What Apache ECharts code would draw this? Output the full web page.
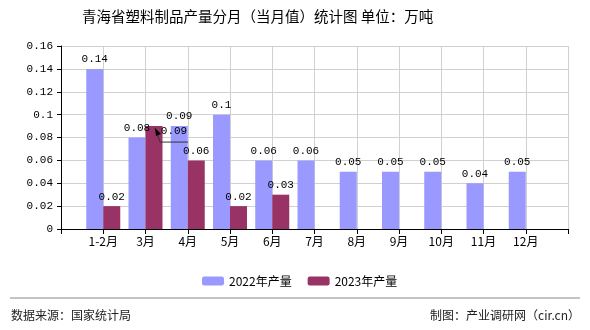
<!DOCTYPE html>
<html><head><meta charset="utf-8">
<script src="https://cdn.jsdelivr.net/npm/echarts@6/dist/echarts.min.js"></script>
<style>html,body{margin:0;padding:0;background:#fff}#c{width:590px;height:330px}</style>
</head><body><div id="c"></div>
<script>
const categories = ['', '1-2月','3月','4月','5月','6月','7月','8月','9月','10月','11月','12月',''];
const values2022 = [null, 0.14, 0.08, 0.09, 0.1, 0.06, 0.06, 0.05, 0.05, 0.05, 0.04, 0.05, null];
const values2023 = [null, 0.02, 0.09, 0.06, 0.02, 0.03, null, null, null, null, null, null, null];
const yTicks = [0, 0.02, 0.04, 0.06, 0.08, 0.1, 0.12, 0.14, 0.16];
const movedLabelIndex = 2;
const BAR_W = 17;

const chart = echarts.init(document.getElementById('c'));
const monoLabel = {show:true, position:'top', color:'#000', fontFamily:'Liberation Mono', fontSize:11, distance:4,
  formatter: p => p.value == null ? '' : String(p.value)};
const footer = [
  {type:'line', shape:{x1:10, y1:298, x2:580, y2:298}, style:{stroke:'#888', lineWidth:1}},
  {type:'text', left:11, top:309, style:{text:'数据来源：国家统计局', fill:'#222', font:'12px "Noto Sans CJK SC"'}},
  {type:'text', right:10, top:309, style:{text:'制图：产业调研网（cir.cn）', fill:'#222', font:'12px "Noto Sans CJK SC"'}}
];
chart.setOption({
  animation:false,
  title:{text:'青海省塑料制品产量分月（当月值）统计图 单位：万吨', left:77, top:4,
    textStyle:{fontSize:14.5, fontWeight:'normal', color:'#000', fontFamily:'Noto Sans CJK SC'}},
  grid:{left:61, right:22, top:46, bottom:101},
  legend:{left:197, top:270, itemWidth:22, itemHeight:9, itemGap:16,
    textStyle:{fontSize:12, color:'#000', fontFamily:'Noto Sans CJK SC'},
    data:['2022年产量','2023年产量']},
  xAxis:{type:'category', data:categories, boundaryGap:false,
    axisLine:{lineStyle:{color:'#000'}},
    axisTick:{interval:0, length:5, lineStyle:{color:'#000'}},
    axisLabel:{interval:0, color:'#000', fontSize:12, margin:6, fontFamily:'Noto Sans CJK SC'},
    splitLine:{show:true, interval:0, lineStyle:{color:'#d0d0d0'}}},
  yAxis:{type:'value', min:0, max:0.16, interval:0.02,
    axisLine:{show:true, lineStyle:{color:'#000'}},
    axisTick:{show:true, length:4, lineStyle:{color:'#000'}},
    axisLabel:{color:'#000', fontSize:11, margin:8, fontFamily:'Liberation Mono',
      formatter: v => { const t = yTicks.find(x => Math.abs(x - v) < 1e-9); return t === undefined ? '' : String(+t.toFixed(2)); }},
    splitLine:{lineStyle:{color:'#d0d0d0'}}},
  series:[
    {name:'2022年产量', type:'bar', data:values2022, barWidth:BAR_W, barGap:'0%',
      itemStyle:{color:'#9999ff'}, label:monoLabel},
    {name:'2023年产量', type:'bar', data:values2023, barWidth:BAR_W, barGap:'0%',
      itemStyle:{color:'#993366'}, label:monoLabel,
      labelLayout: p => (p.dataIndex === movedLabelIndex ? {dx:20, dy:15} : {})}
  ],
  graphic:footer
});
// leader arrow for the moved label, anchored on the bar top via the chart's own scales
const tip = chart.convertToPixel({gridIndex:0}, [movedLabelIndex, values2023[movedLabelIndex]]);
const tx = tip[0] + BAR_W / 2 + 1, ty = tip[1] + 2;
chart.setOption({graphic:footer.concat([
  {type:'polyline', z:100, shape:{points:[[tx, ty], [tx + 5, ty + 14], [tx + 33, ty + 14]]}, style:{stroke:'#333', lineWidth:1, fill:null}},
  {type:'polygon', z:100, shape:{points:[[tx, ty], [tx + 6, ty + 6], [tx + 1, ty + 8]]}, style:{fill:'#000'}}
])}, {replaceMerge:['graphic']});
</script></body></html>
